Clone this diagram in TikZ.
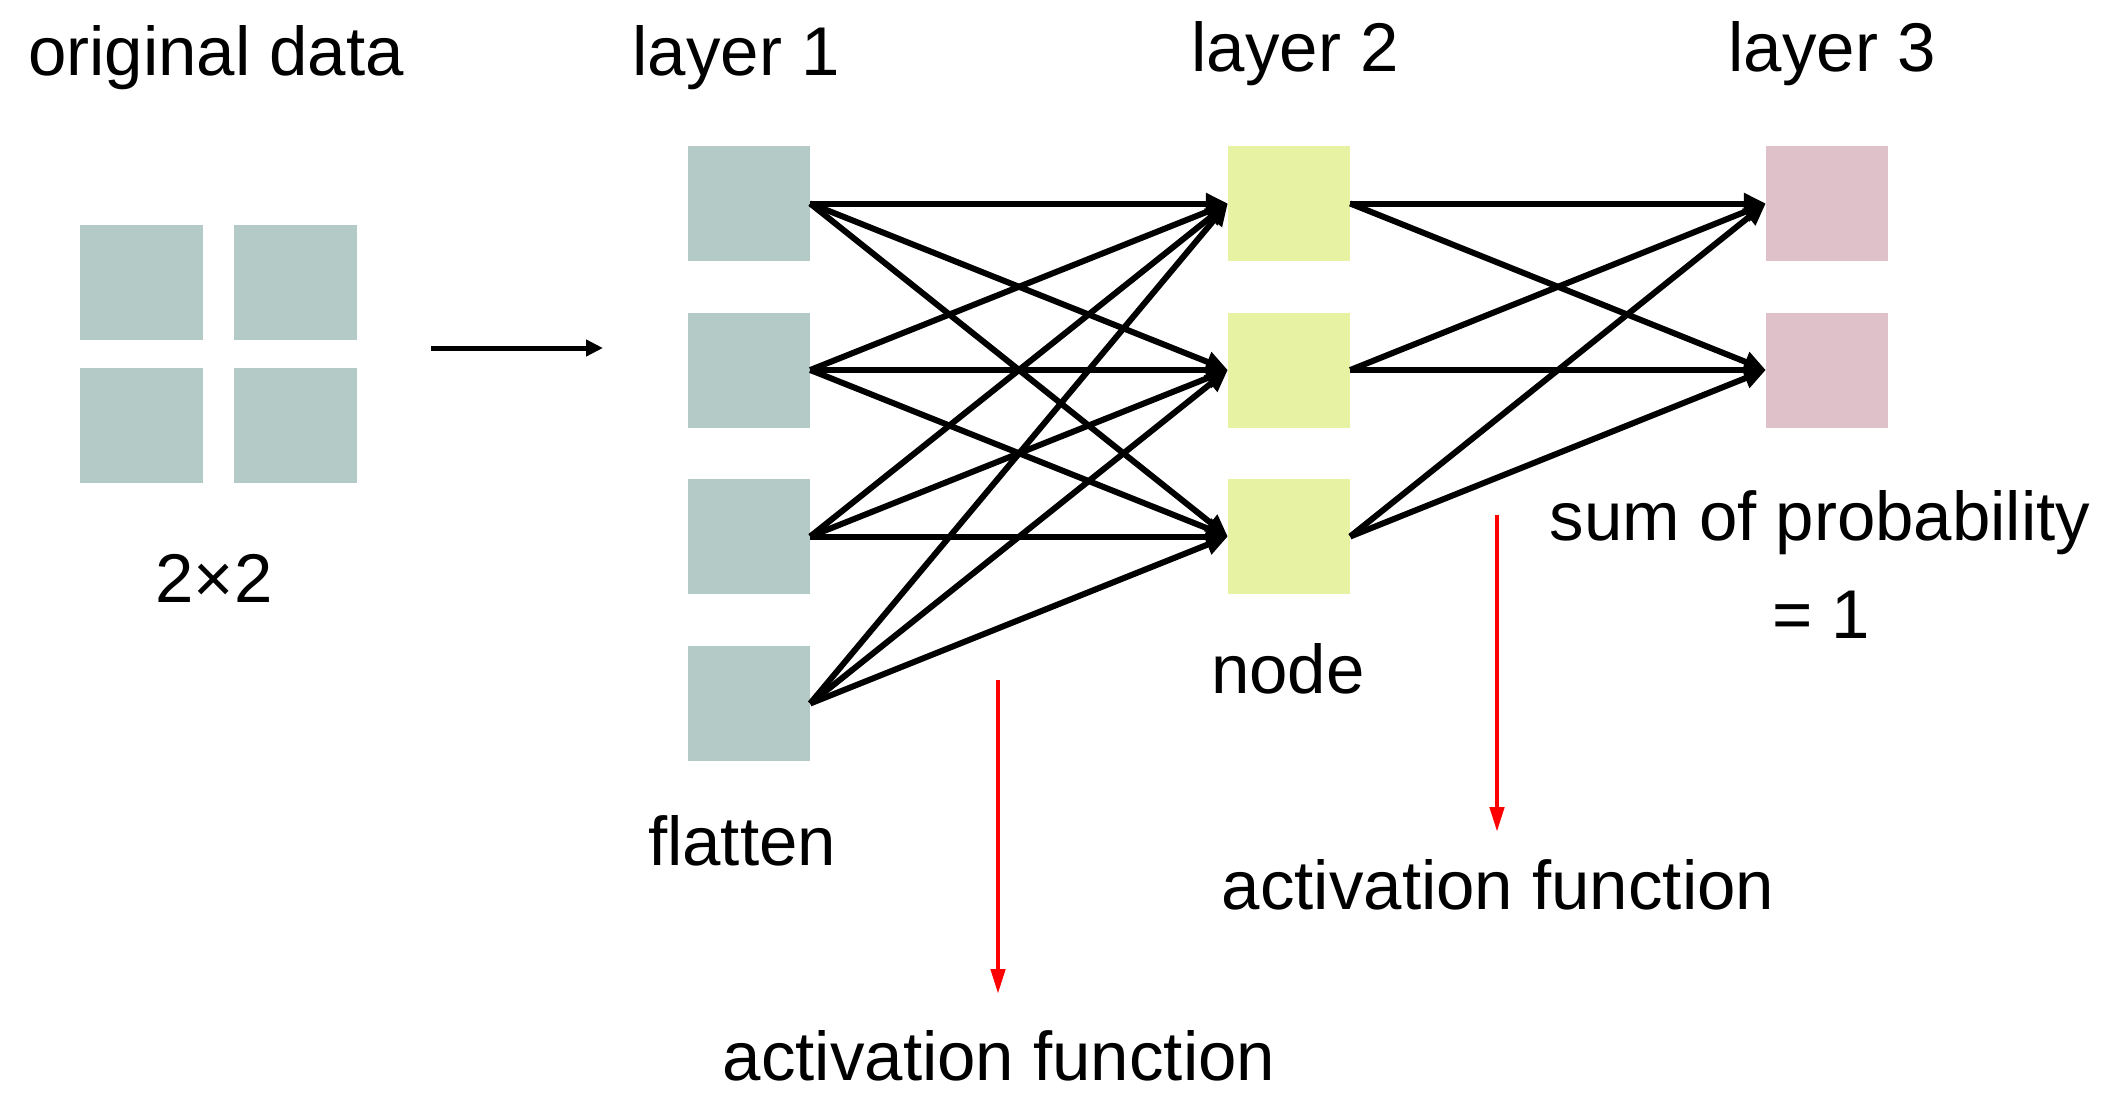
\documentclass[tikz,border=0pt]{standalone}
\usepackage{fontspec}
\setmainfont{Liberation Sans}
\usetikzlibrary{arrows.meta}
\definecolor{inbox}{HTML}{B4CAC7}
\definecolor{hidbox}{HTML}{E8F2A3}
\definecolor{outbox}{HTML}{DFC1CA}
\begin{document}
\begin{tikzpicture}[x=1pt,y=-1pt,
  unit/.style={minimum width=122pt,minimum height=115pt,inner sep=0pt,draw=none},
  lbl/.style={anchor=base,inner sep=0pt,font=\fontsize{69}{80}\selectfont},
  link/.style={line width=6pt,-{Triangle[length=22pt,width=20pt]}},
  feed/.style={line width=5pt,-{Triangle[length=17pt,width=16pt]}},
  act/.style={red,line width=4.5pt,-{Triangle[length=25pt,width=14pt]}}]
  \path[use as bounding box] (0,0) rectangle (2103,1093);

  % 2x2 input grid
  \node[unit,fill=inbox,minimum width=123pt] (g11) at (141.5,282.5) {};
  \node[unit,fill=inbox,minimum width=123pt] (g12) at (295.5,282.5) {};
  \node[unit,fill=inbox,minimum width=123pt] (g21) at (141.5,425) {};
  \node[unit,fill=inbox,minimum width=123pt] (g22) at (295.5,425) {};

  % layer 1 (flattened input)
  \node[unit,fill=inbox] (a1) at (749,203.5) {};
  \node[unit,fill=inbox] (a2) at (749,370) {};
  \node[unit,fill=inbox] (a3) at (749,536.5) {};
  \node[unit,fill=inbox] (a4) at (749,703.5) {};

  % layer 2 (hidden)
  \node[unit,fill=hidbox] (b1) at (1289,203.5) {};
  \node[unit,fill=hidbox] (b2) at (1289,370) {};
  \node[unit,fill=hidbox] (b3) at (1289,536.5) {};

  % layer 3 (output)
  \node[unit,fill=outbox] (c1) at (1827,203.5) {};
  \node[unit,fill=outbox] (c2) at (1827,370) {};

  % labels
  \node[lbl] (tOrig) at (216,75) {original data};
  \node[lbl] (tL1) at (736,75) {layer 1};
  \node[lbl] (tL2) at (1295,71) {layer 2};
  \node[lbl] (tL3) at (1832,71) {layer 3};
  \node[lbl] (tDim) at (214,602) {2×2};
  \node[lbl] (tFlat) at (742,865) {flatten};
  \node[lbl] (tNode) at (1288,693) {node};
  \node[lbl] (tSum) at (1820,540) {sum of probability};
  \node[lbl] (tOne) at (1821,638) {= 1};
  \node[lbl] (tAct1) at (999,1080) {activation function};
  \node[lbl] (tAct2) at (1498,909) {activation function};

  % flatten arrow
  \coordinate (fs) at (431,348);
  \coordinate (fe) at (603,348);
  \draw[feed] (fs) -- (fe);

  % layer 1 -> layer 2
  \foreach \i in {1,...,4}
    \foreach \j in {1,2,3}
      \draw[link] (a\i.east) -- (b\j.west);

  % layer 2 -> layer 3
  \foreach \j in {1,2,3}
    \foreach \k in {1,2}
      \draw[link] (b\j.east) -- (c\k.west);

  % activation markers
  \coordinate (r1s) at (998,680);
  \coordinate (r1e) at (998,994);
  \coordinate (r2s) at (1497,515);
  \coordinate (r2e) at (1497,832);
  \draw[act] (r1s) -- (r1e);
  \draw[act] (r2s) -- (r2e);
\end{tikzpicture}
\end{document}
